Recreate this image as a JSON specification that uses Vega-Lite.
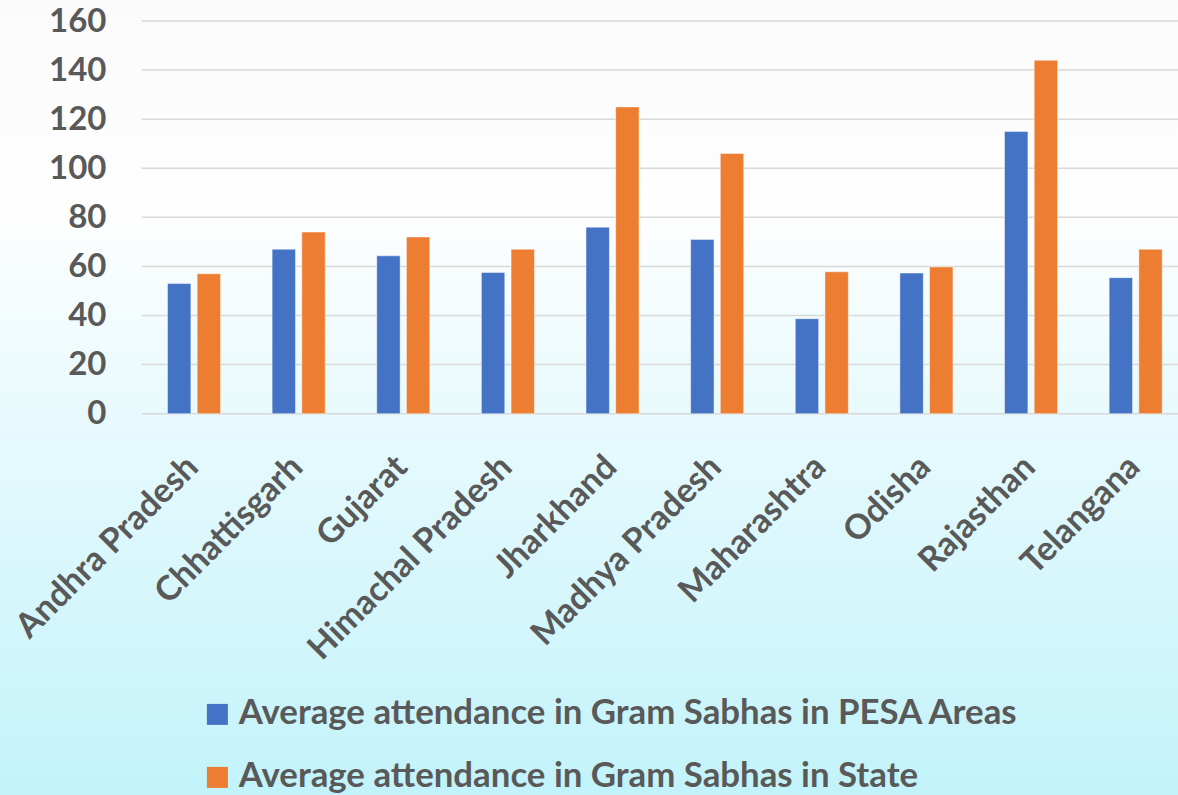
{
  "$schema": "https://vega.github.io/schema/vega-lite/v6.json",
  "width": 1178,
  "height": 795,
  "autosize": "none",
  "padding": 0,
  "background": "#ffffff",
  "config": {
    "view": {"stroke": null},
    "font": "Lato"
  },
  "layer": [
    {
      "data": {"values": [{"bg": 1}]},
      "mark": {
        "type": "rect",
        "color": {
          "gradient": "linear",
          "x1": 0, "y1": 0, "x2": 0, "y2": 1,
          "stops": [
            {"offset": 0, "color": "#fbfbfb"},
            {"offset": 0.27, "color": "#fefefe"},
            {"offset": 0.52, "color": "#e8fafd"},
            {"offset": 1, "color": "#c2f3fa"}
          ]
        }
      },
      "encoding": {
        "y": {"datum": -155.4, "type": "quantitative", "title": null},
        "y2": {"datum": 168.56}
      }
    },
    {
      "data": {"values": [{"tick": 0}, {"tick": 20}, {"tick": 40}, {"tick": 60}, {"tick": 80}, {"tick": 100}, {"tick": 120}, {"tick": 140}, {"tick": 160}]},
      "mark": {"type": "rule", "color": "#d9d9d9", "strokeWidth": 1.5},
      "encoding": {
        "y": {"field": "tick", "type": "quantitative", "title": null},
        "x": {"datum": "Andhra Pradesh", "type": "nominal", "bandPosition": 0, "title": null},
        "x2": {"datum": "Telangana", "bandPosition": 1}
      }
    },
    {
      "data": {
        "values": [
          {"state": "Andhra Pradesh", "series": "Average attendance in Gram Sabhas in PESA Areas", "value": 53},
          {"state": "Andhra Pradesh", "series": "Average attendance in Gram Sabhas in State", "value": 57},
          {"state": "Chhattisgarh", "series": "Average attendance in Gram Sabhas in PESA Areas", "value": 67},
          {"state": "Chhattisgarh", "series": "Average attendance in Gram Sabhas in State", "value": 74},
          {"state": "Gujarat", "series": "Average attendance in Gram Sabhas in PESA Areas", "value": 64.3},
          {"state": "Gujarat", "series": "Average attendance in Gram Sabhas in State", "value": 72},
          {"state": "Himachal Pradesh", "series": "Average attendance in Gram Sabhas in PESA Areas", "value": 57.5},
          {"state": "Himachal Pradesh", "series": "Average attendance in Gram Sabhas in State", "value": 67},
          {"state": "Jharkhand", "series": "Average attendance in Gram Sabhas in PESA Areas", "value": 76},
          {"state": "Jharkhand", "series": "Average attendance in Gram Sabhas in State", "value": 125},
          {"state": "Madhya Pradesh", "series": "Average attendance in Gram Sabhas in PESA Areas", "value": 71},
          {"state": "Madhya Pradesh", "series": "Average attendance in Gram Sabhas in State", "value": 106},
          {"state": "Maharashtra", "series": "Average attendance in Gram Sabhas in PESA Areas", "value": 38.7},
          {"state": "Maharashtra", "series": "Average attendance in Gram Sabhas in State", "value": 57.8},
          {"state": "Odisha", "series": "Average attendance in Gram Sabhas in PESA Areas", "value": 57.3},
          {"state": "Odisha", "series": "Average attendance in Gram Sabhas in State", "value": 59.8},
          {"state": "Rajasthan", "series": "Average attendance in Gram Sabhas in PESA Areas", "value": 115},
          {"state": "Rajasthan", "series": "Average attendance in Gram Sabhas in State", "value": 144},
          {"state": "Telangana", "series": "Average attendance in Gram Sabhas in PESA Areas", "value": 55.4},
          {"state": "Telangana", "series": "Average attendance in Gram Sabhas in State", "value": 67}
        ]
      },
      "mark": {"type": "bar", "stroke": "#ffffff", "strokeWidth": 1, "strokeOpacity": 0.45},
      "encoding": {
        "x": {
          "field": "state", "type": "nominal", "title": null,
          "scale": {
            "type": "band",
            "domain": ["Andhra Pradesh", "Chhattisgarh", "Gujarat", "Himachal Pradesh", "Jharkhand", "Madhya Pradesh", "Maharashtra", "Odisha", "Rajasthan", "Telangana"],
            "range": [0, 1188], "paddingInner": 0, "paddingOuter": 0.6772, "align": 1
          },
          "axis": {
            "title": null, "orient": "bottom", "offset": -381.4, "zindex": 2,
            "domain": false, "ticks": false, "tickSize": 0, "grid": false,
            "labelAngle": -45, "labelAlign": "right", "labelBaseline": "alphabetic",
            "labelPadding": 55, "labelOffset": 6,
            "labelFont": "Lato", "labelFontWeight": "bold", "labelFontSize": 34,
            "labelColor": "#595959", "labelLimit": 500, "labelOverlap": false
          }
        },
        "xOffset": {
          "field": "series", "type": "nominal",
          "scale": {"paddingInner": 0.212, "paddingOuter": 0.869}
        },
        "y": {
          "field": "value", "type": "quantitative", "title": null,
          "scale": {"domain": [-155.4, 168.56], "nice": false, "zero": false},
          "axis": {
            "title": null, "orient": "left", "offset": -106, "zindex": 2,
            "domain": false, "ticks": false, "tickSize": 0, "grid": false,
            "values": [0, 20, 40, 60, 80, 100, 120, 140, 160],
            "labelPadding": 0, "labelAlign": "right", "labelBaseline": "middle",
            "labelFont": "Lato", "labelFontWeight": "bold", "labelFontSize": 33,
            "labelColor": "#595959", "labelOverlap": false
          }
        },
        "color": {
          "field": "series", "type": "nominal",
          "scale": {
            "domain": ["Average attendance in Gram Sabhas in PESA Areas", "Average attendance in Gram Sabhas in State"],
            "range": ["#4472C4", "#ED7D31"]
          },
          "legend": {
            "title": null,
            "orient": "none",
            "legendX": 200,
            "legendY": 697,
            "direction": "vertical",
            "padding": 0,
            "symbolType": "square",
            "symbolSize": 441,
            "symbolStrokeWidth": 0,
            "symbolOpacity": 1,
            "labelFont": "Lato",
            "labelFontWeight": "bold",
            "labelFontSize": 34.8,
            "labelColor": "#595959",
            "labelOffset": 4,
            "labelLimit": 0,
            "rowPadding": 27
          }
        }
      }
    }
  ]
}
